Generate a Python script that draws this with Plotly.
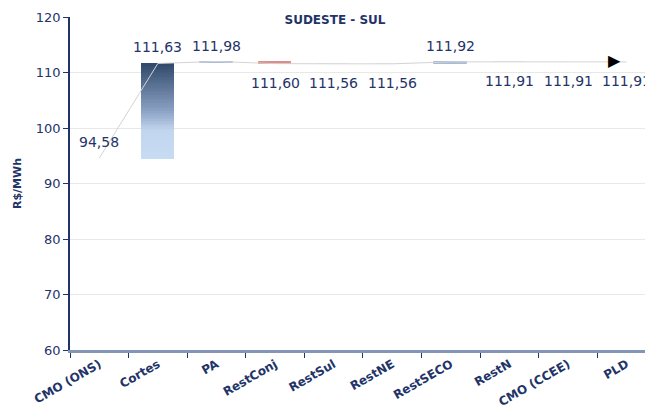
import plotly.graph_objects as go

categories = ["CMO (ONS)", "Cortes", "PA", "RestConj", "RestSul", "RestNE",
              "RestSECO", "RestN", "CMO (CCEE)", "PLD"]
totals = [94.58, 111.63, 111.98, 111.60, 111.56, 111.56, 111.92, 111.91, 111.91, 111.91]
label_pos = ["top", "top", "top", "bottom", "bottom", "bottom", "top", "bottom", "bottom", "bottom"]

NAVY = "#1F3468"

# the page adds an 8px body margin; figure is sized so the window shows 653x407
W, H = 645, 399

fig = go.Figure()

# connector / trend line through the running totals
fig.add_trace(go.Scatter(x=categories, y=totals, mode="lines",
                         line=dict(color="#D4D4D4", width=1), hoverinfo="skip",
                         showlegend=False))

def lerp(c1, c2, t):
    return tuple(int(round(a + (b - a) * t)) for a, b in zip(c1, c2))

stops = [(0.0, (48, 72, 106)), (0.5, (140, 163, 198)), (0.7, (194, 213, 238)), (1.0, (199, 219, 243))]

def grad(t):  # t=0 top, t=1 bottom
    for (t0, c0), (t1, c1) in zip(stops[:-1], stops[1:]):
        if t0 <= t <= t1:
            return "rgb(%d,%d,%d)" % lerp(c0, c1, (t - t0) / (t1 - t0))
    return "rgb(%d,%d,%d)" % stops[-1][1]

for i in range(1, 8):
    prev, cur = totals[i - 1], totals[i]
    delta = cur - prev
    lo = min(prev, cur)
    h = abs(delta)
    if i == 1:
        n = 60
        xs, bases, ys, cols = [], [], [], []
        for k in range(n):
            b = lo + h * k / n
            xs.append(categories[i]); bases.append(b); ys.append(h / n * 1.02)
            cols.append(grad(1 - (k + 0.5) / n))
        fig.add_trace(go.Bar(x=xs, y=ys, base=bases, width=0.56,
                             marker=dict(color=cols, line=dict(width=0)),
                             hoverinfo="skip", showlegend=False))
    else:
        if delta > 0.1:
            col = "#A9BCD6"
        elif delta < -0.1:
            col = "#E08A8A"
        else:
            col = "#EEEEEE"
        fig.add_trace(go.Bar(x=[categories[i]], y=[max(h, 0.02)], base=[lo], width=0.56,
                             marker=dict(color=col, line=dict(color=col, width=1)),
                             hoverinfo="skip", showlegend=False))

# data labels
texts = [("%.2f" % v).replace(".", ",") for v in totals]
for c, v, t, p in zip(categories, totals, texts, label_pos):
    fig.add_annotation(x=c, y=v, text=t, showarrow=False, yanchor="middle",
                       yshift=16 if p == "top" else -19,
                       font=dict(family="DejaVu Sans", size=14, color=NAVY))

# arrow at final value
fig.add_annotation(x=categories[-1], y=totals[-1], text="\u25B6", showarrow=False,
                   xshift=-12, yshift=1, font=dict(size=16, color="black", family="DejaVu Sans"))

fig.update_layout(
    width=W, height=H,
    margin=dict(l=62, r=0, t=9, b=57),
    paper_bgcolor="white", plot_bgcolor="white",
    barmode="overlay", bargap=0,
    font=dict(family="DejaVu Sans", color=NAVY),
    title=dict(text="<b>SUDESTE - SUL</b>", x=327 / W, xanchor="center",
               y=1 - 12 / H, yanchor="middle", xref="container", yref="container",
               font=dict(size=12, color=NAVY, family="DejaVu Sans")),
    xaxis=dict(type="category", range=[-0.5, 9.45], tickson="boundaries",
               ticks="outside", ticklen=5, tickcolor=NAVY,
               showline=True, linecolor="#8496B8", linewidth=2.5,
               tickangle=-30, showgrid=False, automargin=False,
               tickfont=dict(family="DejaVu Sans", size=12, color=NAVY, weight="bold")),
    yaxis=dict(range=[60, 120], dtick=10, ticks="outside", ticklen=5, tickcolor=NAVY,
               showline=True, linecolor=NAVY, linewidth=1.5, automargin=False,
               showgrid=True, gridcolor="#E8E8E8", gridwidth=1,
               zeroline=False,
               tickfont=dict(family="DejaVu Sans", size=13, color=NAVY),
               title=dict(text="<b>R$/MWh</b>", standoff=12,
                          font=dict(family="DejaVu Sans", size=11, color=NAVY))),
)

fig.write_html("out.html")
